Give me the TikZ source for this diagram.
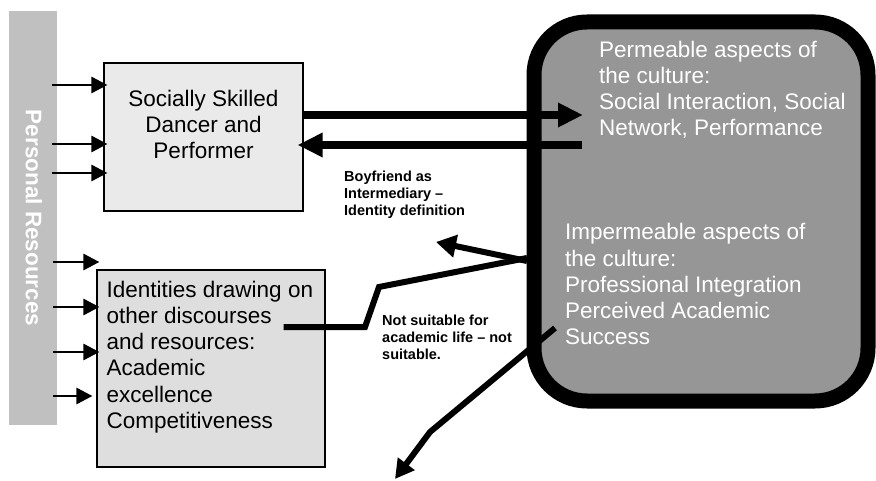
\documentclass[tikz,border=0pt]{standalone}
\usepackage{fontspec}
\setmainfont{Liberation Sans}
\usetikzlibrary{arrows.meta,calc}
\definecolor{bargray}{RGB}{192,192,192}
\definecolor{boxonefill}{RGB}{234,234,234}
\definecolor{boxtwofill}{RGB}{222,222,222}
\definecolor{culturefill}{RGB}{150,150,150}
\tikzset{
  plainbox/.style={draw=black, line width=1.2pt, inner sep=0pt},
  maintext/.style={inner sep=0pt, font=\fontsize{22.5}{26.2}\selectfont},
  labeltext/.style={inner sep=0pt, align=left, font=\bfseries\fontsize{14.5}{17}\selectfont},
  thinarrow/.style={line width=2.8pt, -{Triangle[length=16pt,width=16pt]}},
  thickarrow/.style={line width=8pt, -{Triangle[length=25pt,width=23pt]}},
  medarrow/.style={line width=6pt, -{Triangle[length=20pt,width=22pt]}},
  medline/.style={line width=6pt, line join=miter},
}
\begin{document}
\begin{tikzpicture}[x=1pt,y=-1pt]
\useasboundingbox (0,0) rectangle (876,481);
% personal resources bar
\node[fill=bargray, minimum width=48, minimum height=414, inner sep=0pt] (bar) at (33,218) {};
\node[rotate=-90, text=white, inner sep=0pt, font=\bfseries\fontsize{22.5}{26}\selectfont] (barlabel) at (34,218) {Personal Resources};
% box 1
\node[plainbox, fill=boxonefill, minimum width=199, minimum height=148] (soc) at (203.5,137) {};
\node[maintext, align=center, anchor=north] (soctext) at (203.5,90) {Socially Skilled\\Dancer and\\Performer};
% box 2
\node[plainbox, fill=boxtwofill, minimum width=228, minimum height=197] (ident) at (211,368.5) {};
\node[maintext, align=left, anchor=north west] (identtext) at (106.5,280.8) {Identities drawing on\\other discourses\\and resources:\\Academic\\excellence\\Competitiveness};
% culture rounded rectangle
\node[draw=black, line width=15pt, fill=culturefill, rounded corners=53pt, minimum width=334, minimum height=379, inner sep=0pt] (cult) at (701,211.5) {};
\node[maintext, align=left, anchor=north west, text=white] (perm) at (599,40.5) {Permeable aspects of\\the culture:\\Social Interaction, Social\\Network, Performance};
\node[maintext, align=left, anchor=north west, text=white] (imperm) at (565,223.3) {Impermeable aspects of\\the culture:\\Professional Integration\\Perceived Academic\\Success};
% labels
\node[labeltext, anchor=north west] (boyf) at (344,170.4) {Boyfriend as\\Intermediary --\\Identity definition};
\node[labeltext, anchor=north west] (notsuit) at (382,314.4) {Not suitable for\\academic life -- not\\suitable.};
% free ends
\coordinate (permin) at (583,115);
\coordinate (permout) at (582,145);
\coordinate (impedge) at (527,258);
\coordinate (impout) at (527,261);
\coordinate (boyftip) at (436,242);
\coordinate (succ) at (555,328);
\coordinate (downtip) at (395,479);
% thin arrows from the bar
\draw[thinarrow] ($(bar.east|-0,85)+(-5,0)$) -- ($(soc.west|-0,85)+(4,0)$);
\draw[thinarrow] ($(bar.east|-0,144)+(-5,0)$) -- ($(soc.west|-0,144)+(4,0)$);
\draw[thinarrow] ($(bar.east|-0,173)+(-5,0)$) -- ($(soc.west|-0,173)+(4,0)$);
\draw[thinarrow] ($(bar.east|-0,262)+(-4,0)$) -- ($(ident.west|-0,262)+(3,0)$);
\draw[thinarrow] ($(bar.east|-0,307)+(-4,0)$) -- ($(ident.west|-0,307)+(3,0)$);
\draw[thinarrow] ($(bar.east|-0,352)+(-4,0)$) -- ($(ident.west|-0,352)+(3,0)$);
\draw[thinarrow] ($(bar.east|-0,396)+(-4,0)$) -- ($(ident.west|-0,396)+(-4,0)$);
% thick arrows between box 1 and the culture
\draw[thickarrow] (soc.east|-permin) -- (permin);
\draw[thickarrow] (permout) -- ($(soc.east|-permout)+(-6,0)$);
% box 2 to culture
\draw[medline] ($(ident.east|-0,327)+(-42,0)$) -- (365,327) -- (379,287) -- (impedge);
\draw[medarrow] (impout) -- (boyftip);
% down arrow
\draw[line width=6pt, line join=miter, -{Triangle[length=19pt,width=20pt]}] (succ) -- (430,432) -- (downtip);
\end{tikzpicture}
\end{document}
